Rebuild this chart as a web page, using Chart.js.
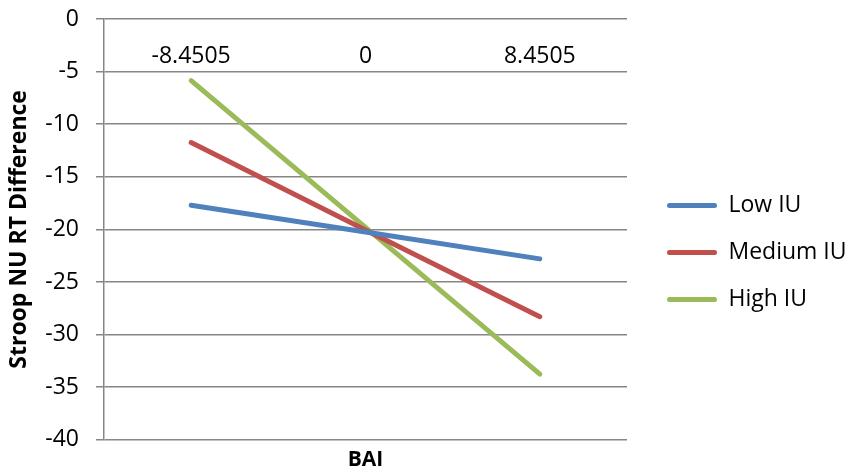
<!DOCTYPE html>
<html lang="en">
<head>
    <meta charset="UTF-8">
    <script src="https://cdn.jsdelivr.net/npm/chart.js"></script>
    <title>Stroop NU RT Difference by BAI</title>
    <style>
        body { margin: 0; background: #fff; }
        #wrap { width: 851px; height: 475px; }
    </style>
</head>
<body>
    <div id="wrap"><canvas id="myChart"></canvas></div>
    <script>
        // BAI levels (mean-centred, +/- 1 SD)
        let bai_labels = ['-8.4505', '0', '8.4505'];
        let low_iu = [-17.7, -20.25, -22.8];
        let medium_iu = [-11.75, -20.05, -28.3];
        let high_iu = [-5.85, -19.8, -33.75];
        let series_names = ['Low IU', 'Medium IU', 'High IU'];
        let y_ticks = [0, -5, -10, -15, -20, -25, -30, -35, -40];

        let colors = ['#4F81BD', '#C0504D', '#9BBB59'];
        let gridColor = '#868686';
        let fontFamily = '"Open Sans", "Liberation Sans", sans-serif';

        function makeSet(name, data, color) {
            return {
                label: name,
                data: data,
                borderColor: color,
                backgroundColor: color,
                borderWidth: 5,
                borderCapStyle: 'round',
                tension: 0,
                pointRadius: 0,
                pointHoverRadius: 0,
                xAxisID: 'x'
            };
        }

        let ctx = document.getElementById('myChart');
        let configs = {
            type: 'line',
            data: {
                labels: bai_labels,
                datasets: [
                    makeSet(series_names[0], low_iu, colors[0]),
                    makeSet(series_names[1], medium_iu, colors[1]),
                    makeSet(series_names[2], high_iu, colors[2])
                ]
            },
            options: {
                responsive: true,
                maintainAspectRatio: false,
                animation: false,
                layout: { padding: { top: 0, right: 6, left: 0, bottom: 2 } },
                scales: {
                    x: {
                        type: 'category',
                        position: { y: 0 },   // category labels hang under the 0 line
                        offset: true,
                        grid: { display: false },
                        border: { display: false },
                        ticks: {
                            color: '#000',
                            padding: 16,
                            maxRotation: 0,
                            font: { family: fontFamily, size: 23 }
                        }
                    },
                    x2: {
                        type: 'category',
                        position: 'bottom',
                        labels: bai_labels,
                        offset: true,
                        grid: { display: false, drawTicks: false },
                        border: { display: false },
                        ticks: { display: false },
                        title: {
                            display: true,
                            text: 'BAI',
                            color: '#000',
                            padding: { top: 8, bottom: 0 },
                            font: { family: fontFamily, size: 21, weight: 'bold' }
                        }
                    },
                    y: {
                        min: -40,
                        max: 0,
                        afterBuildTicks: function (axis) {
                            axis.ticks = y_ticks.map(v => ({ value: v }));
                        },
                        afterFit: function (axis) {
                            axis.width = 104;
                            axis.paddingTop = 19;
                        },
                        grid: {
                            color: gridColor,
                            lineWidth: 1.5,
                            tickLength: 8
                        },
                        border: { color: gridColor, width: 1.5 },
                        ticks: {
                            color: '#000',
                            padding: 17,
                            font: { family: fontFamily, size: 23 }
                        },
                        title: {
                            display: true,
                            text: 'Stroop NU RT Difference',
                            color: '#000',
                            padding: { top: 6, bottom: 0 },
                            font: { family: fontFamily, size: 23, weight: 'bold' }
                        }
                    },
                    // empty spacer between the plot and the legend
                    gap: {
                        type: 'linear',
                        position: 'right',
                        display: true,
                        grid: { display: false, drawTicks: false },
                        border: { display: false },
                        ticks: { display: false },
                        afterFit: function (axis) {
                            axis.width = 16;
                        }
                    }
                },
                plugins: {
                    tooltip: { enabled: false },
                    legend: {
                        position: 'right',
                        maxWidth: 202,
                        title: {
                            display: true,
                            text: ' ',
                            padding: { top: 0, bottom: 20 },
                            font: { family: fontFamily, size: 10 }
                        },
                        labels: {
                            color: '#000',
                            boxWidth: 50,
                            boxHeight: 5,
                            padding: 24,
                            font: { family: fontFamily, size: 23 },
                            generateLabels: function (chart) {
                                return chart.data.datasets.map((ds, i) => ({
                                    text: ds.label,
                                    fillStyle: ds.borderColor,
                                    strokeStyle: ds.borderColor,
                                    fontColor: '#000',
                                    lineWidth: 0,
                                    borderRadius: 2.5,
                                    hidden: false,
                                    datasetIndex: i
                                }));
                            }
                        }
                    }
                }
            }
        };
        let myChart = new Chart(ctx, configs);
    </script>
</body>
</html>
